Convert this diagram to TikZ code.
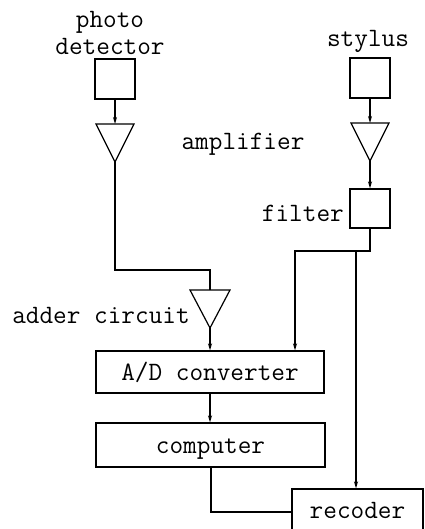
\documentclass[tikz,border=0pt]{standalone}
\usetikzlibrary{arrows.meta}
\begin{document}
\begin{tikzpicture}[x=1pt,y=-1pt,
  lw/.style={line width=1.2pt},
  blk/.style={draw,lw,inner sep=0pt,text height=16pt,text depth=0pt,font=\fontsize{26.5}{27}\selectfont\ttfamily},
  lbl/.style={inner sep=0pt,font=\fontsize{26.5}{27}\selectfont\ttfamily},
  conn/.style={lw},
  arr/.style={lw,-{Stealth[length=7pt,width=4pt]}}]
\useasboundingbox (0,0) rectangle (424,529);
\clip (0,0) rectangle (424,529);
% boxes
\node[blk,minimum width=40pt,minimum height=40pt] (pd) at (115,79) {};
\node[blk,minimum width=40pt,minimum height=40pt] (st) at (370,78) {};
\node[blk,minimum width=40pt,minimum height=39pt] (fi) at (370,208.5) {};
\node[blk,minimum width=228pt,minimum height=42pt] (ad) at (210,372) {A/D converter};
\node[blk,minimum width=229pt,minimum height=44pt] (co) at (210.5,445) {computer};
\node[blk,minimum width=131pt,minimum height=42pt] (re) at (357.5,510) {recoder};
% amplifier triangles
\coordinate (a1top) at (115,124);
\coordinate (a1out) at (115,162);
\draw[lw,line join=miter] (96,124) -- (134,124) -- (a1out) -- cycle;
\coordinate (a2top) at (370,123);
\coordinate (a2out) at (370,161);
\draw[lw,line join=miter] (351,123) -- (389,123) -- (a2out) -- cycle;
\coordinate (adtop) at (210,290);
\coordinate (adout) at (210,328);
\draw[lw,line join=miter] (190,290) -- (230,290) -- (adout) -- cycle;
% labels
\node[lbl,align=center,anchor=south] (lpd) at (110,55) {photo\\detector};
\node[lbl,anchor=base] (lst) at (368,47) {stylus};
\node[lbl,anchor=base] (lam) at (243,150) {amplifier};
\node[lbl,anchor=base east] (lfi) at (344,222) {filter};
\node[lbl,anchor=base] (lac) at (101,323) {adder circuit};
% connectors
\draw[arr] (pd.south) -- (a1top);
\draw[conn] (a1out) -- (115,270) -- (210,270) -- (adtop);
\draw[arr] (adout) -- (ad.north -| adout);
\draw[arr] (ad.south -| adout) -- (co.north -| adout);
\draw[conn] (co.south -| 211,0) -- (211,512) -- (re.west |- 0,512);
\draw[arr] (st.south) -- (a2top);
\draw[arr] (a2out) -- (fi.north);
\coordinate (br) at (356,251);
\draw[arr] (fi.south) -- (370,251) -- (295,251) -- (ad.north -| 295,0);
\draw[arr] (br) -- (re.north -| br);
\end{tikzpicture}
\end{document}
